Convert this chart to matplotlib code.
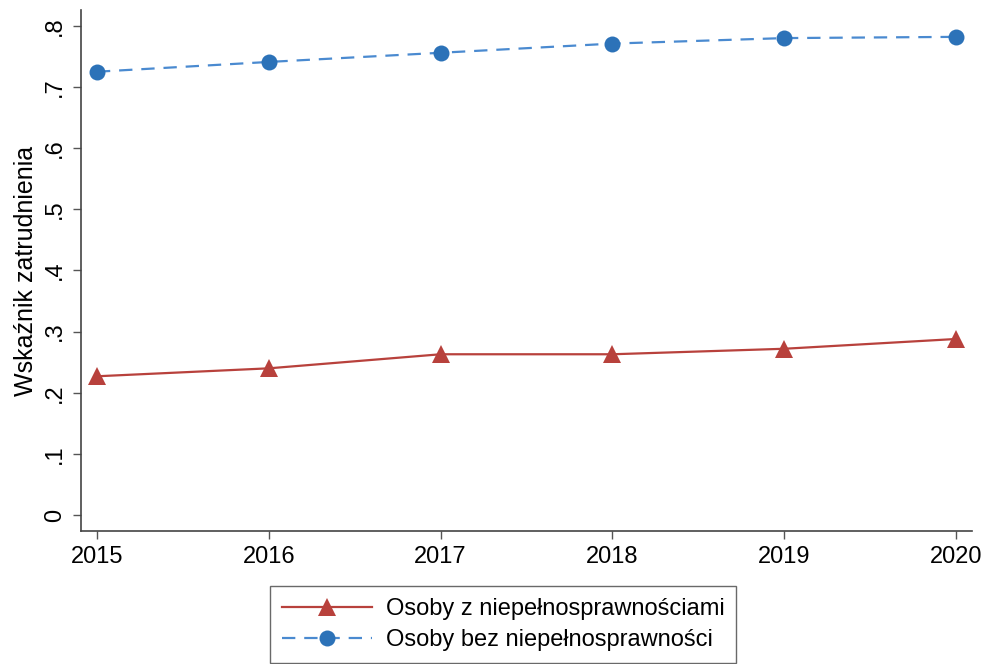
import matplotlib
matplotlib.use("Agg")
import matplotlib.pyplot as plt

# dane
lata = [2015, 2016, 2017, 2018, 2019, 2020]
z_niepelnospr = [0.227, 0.240, 0.263, 0.263, 0.272, 0.288]
bez_niepelnospr = [0.725, 0.741, 0.756, 0.771, 0.780, 0.782]
y_ticks = [0, 0.1, 0.2, 0.3, 0.4, 0.5, 0.6, 0.7, 0.8]
y_labels = ["0", ".1", ".2", ".3", ".4", ".5", ".6", ".7", ".8"]

plt.rcParams['font.family'] = ['Liberation Sans', 'DejaVu Sans']

fig = plt.figure(figsize=(9.87, 6.64), dpi=100)
ax = fig.add_axes([0.082, 0.2003, 0.903, 0.7847])

ax.plot(lata, z_niepelnospr, color='#b8413c', linewidth=1.6, marker='^',
        markersize=13, markeredgewidth=0, label='Osoby z niepełnosprawnościami')
ax.plot(lata, bez_niepelnospr, color='#4a8ad0', linewidth=1.6, linestyle=(0, (6, 4)),
        marker='o', markersize=11.5, markerfacecolor='#2c72b8', markeredgewidth=0,
        label='Osoby bez niepełnosprawności')

ax.set_xlim(2014.907, 2020.093)
ax.set_ylim(-0.026, 0.826)
ax.set_xticks(lata)
ax.set_yticks(y_ticks)
ax.set_yticklabels(y_labels, rotation=90, va='center')
ax.tick_params(labelsize=17, length=6, width=1, color='#555555', pad=5)
ax.set_ylabel('Wskaźnik zatrudnienia', fontsize=18, labelpad=4)

for s in ['top', 'right']:
    ax.spines[s].set_visible(False)
for s in ['left', 'bottom']:
    ax.spines[s].set_color('#444444')
    ax.spines[s].set_linewidth(1.2)

leg = fig.legend(loc='upper left', bbox_to_anchor=(0.2736, 0.1175), fontsize=17,
                 frameon=True, fancybox=False, handlelength=3.8, borderpad=0.5,
                 labelspacing=0.4, handletextpad=0.6, borderaxespad=0)
leg.get_frame().set_edgecolor('#444444')
leg.get_frame().set_linewidth(1.0)

fig.savefig('out.png', dpi=100)
